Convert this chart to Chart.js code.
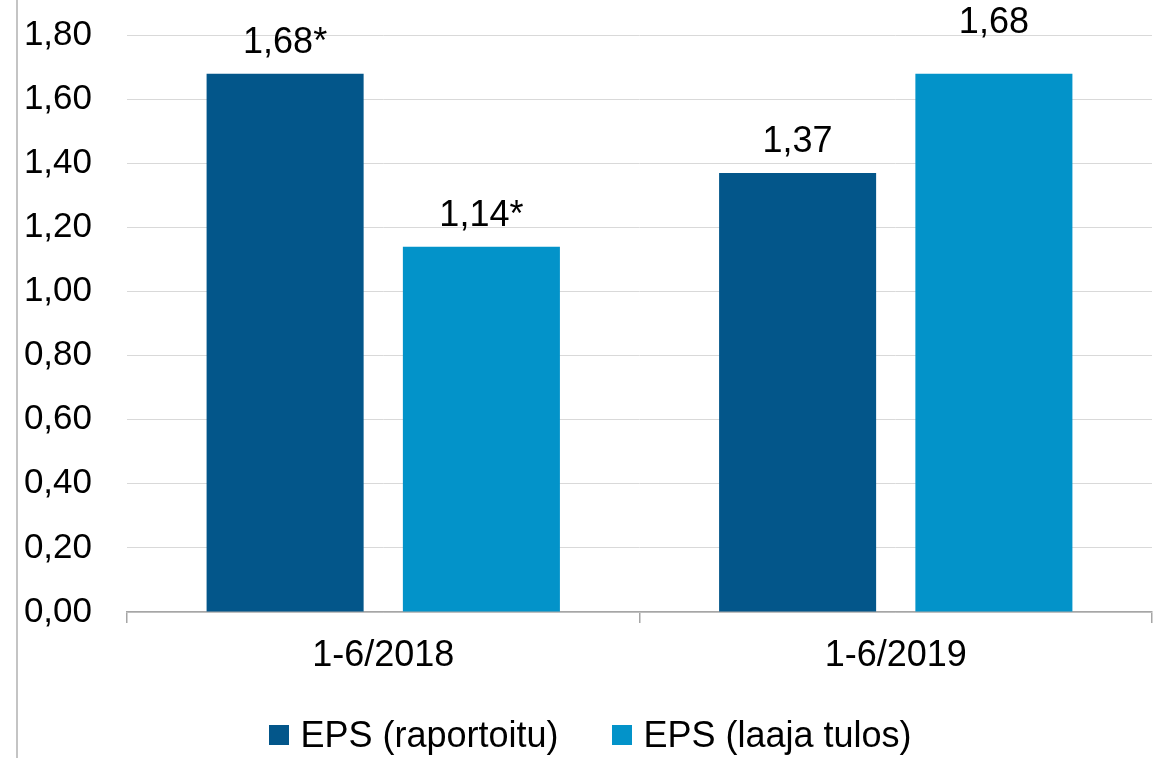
<!DOCTYPE html>
<html>
<head>
<meta charset="utf-8">
<script src="https://cdn.jsdelivr.net/npm/chart.js@4"></script>
<style>
  html, body { margin: 0; padding: 0; background: #fff; }
  body { width: 1154px; height: 758px; position: relative; overflow: hidden; font-family: 'Liberation Sans', Arial, sans-serif; }
  #frame { position: absolute; left: 16px; top: 0; width: 2px; height: 758px; background: #c4c4c4; }
  #wrap { position: absolute; left: 18px; top: 0; width: 1136px; height: 758px; }
  #legend { position: absolute; left: 18px; top: 715px; width: 1136px; box-sizing: border-box; padding-left: 9px;
            display: flex; justify-content: center; align-items: center; font-size: 36px; line-height: 40px; color: #000; }
  .item { display: flex; align-items: center; }
  .item + .item { margin-left: 54px; }
  .sw { width: 20px; height: 20px; margin-right: 11px; }
</style>
</head>
<body>
<div id="frame"></div>
<div id="wrap"><canvas id="c"></canvas></div>
<div id="legend"></div>
<script>
// ---- data ----
const categories = ['1-6/2018', '1-6/2019'];
const seriesNames = ['EPS (raportoitu)', 'EPS (laaja tulos)'];
const epsReported = [1.68, 1.37];
const epsComprehensive = [1.14, 1.68];
const labelsReported = ['1,68*', '1,37'];
const labelsComprehensive = ['1,14*', '1,68'];
const yTickStep = 0.2;

// ---- styles ----
const colors = ['#03568a', '#0393c9'];
const FONT = "'Liberation Sans', Arial, sans-serif";
Chart.defaults.font.family = FONT;
Chart.defaults.color = '#000';

const barLabels = {
  id: 'barLabels',
  afterDatasetsDraw(chart, args, opts) {
    const ctx = chart.ctx;
    ctx.save();
    ctx.font = '36px ' + FONT;
    ctx.fillStyle = '#000';
    ctx.textAlign = 'center';
    ctx.textBaseline = 'alphabetic';
    chart.data.datasets.forEach((ds, di) => {
      const meta = chart.getDatasetMeta(di);
      meta.data.forEach((el, i) => {
        const lift = opts.lift[di][i];
        ctx.fillText(ds.valueLabels[i], el.x, el.y - lift);
      });
    });
    ctx.restore();
  }
};

new Chart(document.getElementById('c'), {
  type: 'bar',
  data: {
    labels: categories,
    datasets: [
      { label: seriesNames[0], data: epsReported, valueLabels: labelsReported, backgroundColor: colors[0] },
      { label: seriesNames[1], data: epsComprehensive, valueLabels: labelsComprehensive, backgroundColor: colors[1] }
    ]
  },
  options: {
    responsive: true,
    maintainAspectRatio: false,
    animation: false,
    categoryPercentage: 0.766,
    barPercentage: 0.80,
    layout: { padding: { top: 0, right: 2, bottom: 0, left: 0 } },
    plugins: {
      legend: { display: false },
      tooltip: { enabled: false },
      barLabels: { lift: [[21, 21], [21, 41]] }
    },
    scales: {
      x: {
        grid: { drawOnChartArea: false, drawTicks: true, tickLength: 11, color: '#a6a6a6', lineWidth: 1.5 },
        border: { display: true, color: '#a6a6a6', width: 1.5 },
        ticks: { font: { size: 36 }, color: '#000', padding: 11, maxRotation: 0 },
        afterFit(scale) { scale.height = 146; }
      },
      y: {
        min: 0,
        max: 1.91,
        grid: { color: '#d9d9d9', lineWidth: 1, drawTicks: false },
        border: { display: false },
        ticks: {
          stepSize: yTickStep,
          includeBounds: false,
          padding: 35,
          font: { size: 35 },
          color: '#000',
          callback: (v) => {
            const k = v / yTickStep;
            if (Math.abs(k - Math.round(k)) > 1e-6) return null;
            return v.toFixed(2).replace('.', ',');
          }
        },
        afterFit(scale) { scale.width = 109; scale.paddingTop = 0; }
      }
    }
  },
  plugins: [barLabels]
});

// legend (HTML)
const lg = document.getElementById('legend');
seriesNames.forEach((n, i) => {
  const it = document.createElement('div');
  it.className = 'item';
  const sw = document.createElement('span');
  sw.className = 'sw';
  sw.style.background = colors[i];
  const tx = document.createElement('span');
  tx.textContent = n;
  it.appendChild(sw); it.appendChild(tx);
  lg.appendChild(it);
});
</script>
</body>
</html>
